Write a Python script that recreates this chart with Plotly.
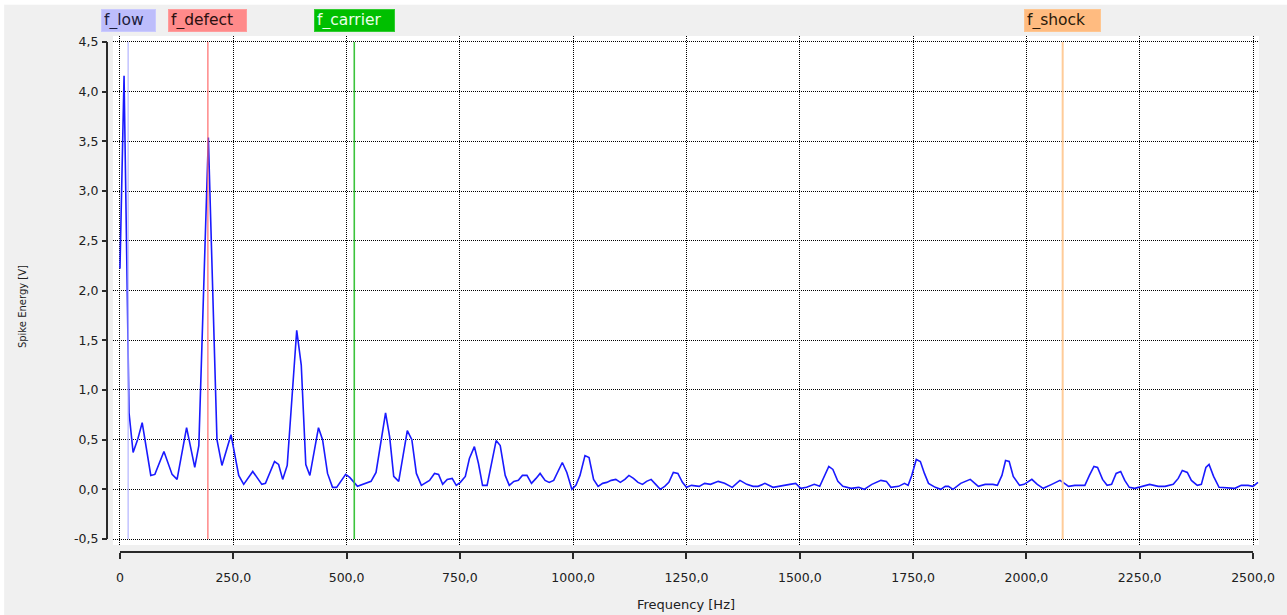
import plotly.graph_objects as go

# Spike energy spectrum
freq_hz = [
    0, 9, 20, 29, 39, 49, 68, 77, 97, 115,
    126, 147, 165, 174, 195, 214, 225, 245, 262, 273,
    293, 313, 321, 341, 350, 359, 369, 390, 400, 410,
    419, 438, 447, 458, 469, 478, 498, 507, 524, 554,
    565, 586, 595, 604, 615, 634, 644, 654, 665, 683,
    694, 703, 712, 722, 733, 742, 751, 762, 771, 782,
    791, 800, 810, 820, 830, 839, 850, 859, 869, 879,
    888, 898, 908, 918, 927, 938, 947, 957, 967, 976,
    986, 997, 1006, 1015, 1026, 1035, 1045, 1055, 1065, 1074,
    1084, 1094, 1104, 1114, 1123, 1133, 1143, 1153, 1162, 1172,
    1182, 1192, 1202, 1211, 1221, 1231, 1241, 1250, 1261, 1278,
    1290, 1303, 1320, 1334, 1351, 1368, 1383, 1397, 1408, 1423,
    1441, 1461, 1478, 1491, 1502, 1515, 1532, 1544, 1564, 1573,
    1584, 1595, 1613, 1630, 1642, 1659, 1679, 1691, 1701, 1718,
    1731, 1739, 1747, 1757, 1766, 1775, 1784, 1799, 1811, 1821,
    1828, 1838, 1855, 1876, 1894, 1909, 1926, 1936, 1946, 1954,
    1962, 1971, 1985, 1995, 2012, 2024, 2037, 2056, 2074, 2084,
    2093, 2107, 2129, 2139, 2149, 2157, 2168, 2178, 2188, 2198,
    2208, 2217, 2227, 2239, 2256, 2272, 2291, 2306, 2324, 2335,
    2344, 2355, 2364, 2377, 2386, 2396, 2403, 2413, 2425, 2445,
    2460, 2474, 2489, 2500, 2511,
]
spike_energy_v = [
    2.22, 4.16, 0.77, 0.37, 0.50, 0.67, 0.14, 0.15, 0.38, 0.15,
    0.10, 0.62, 0.22, 0.44, 3.54, 0.50, 0.24, 0.55, 0.14, 0.05,
    0.18, 0.05, 0.06, 0.28, 0.25, 0.10, 0.24, 1.60, 1.25, 0.25,
    0.14, 0.62, 0.50, 0.16, 0.02, 0.02, 0.15, 0.12, 0.03, 0.08,
    0.17, 0.77, 0.53, 0.13, 0.08, 0.59, 0.50, 0.16, 0.04, 0.09,
    0.16, 0.15, 0.05, 0.10, 0.11, 0.04, 0.07, 0.13, 0.31, 0.43,
    0.26, 0.04, 0.04, 0.26, 0.49, 0.44, 0.14, 0.04, 0.08, 0.09,
    0.14, 0.14, 0.06, 0.11, 0.16, 0.09, 0.07, 0.09, 0.19, 0.27,
    0.17, 0.00, 0.04, 0.14, 0.34, 0.32, 0.10, 0.03, 0.06, 0.07,
    0.09, 0.10, 0.07, 0.10, 0.14, 0.11, 0.07, 0.05, 0.08, 0.10,
    0.05, 0.00, 0.03, 0.07, 0.17, 0.16, 0.07, 0.02, 0.04, 0.03,
    0.06, 0.05, 0.08, 0.06, 0.02, 0.09, 0.05, 0.03, 0.03, 0.06,
    0.02, 0.04, 0.05, 0.06, 0.01, 0.02, 0.05, 0.03, 0.23, 0.20,
    0.08, 0.03, 0.01, 0.02, 0.00, 0.05, 0.09, 0.08, 0.02, 0.03,
    0.06, 0.04, 0.14, 0.30, 0.28, 0.16, 0.06, 0.02, 0.00, 0.03,
    0.03, 0.00, 0.06, 0.10, 0.03, 0.05, 0.05, 0.04, 0.14, 0.29,
    0.28, 0.13, 0.04, 0.05, 0.10, 0.05, 0.01, 0.05, 0.09, 0.06,
    0.03, 0.04, 0.04, 0.14, 0.23, 0.22, 0.10, 0.04, 0.05, 0.16,
    0.18, 0.09, 0.02, 0.01, 0.03, 0.05, 0.03, 0.03, 0.05, 0.11,
    0.19, 0.17, 0.09, 0.04, 0.05, 0.22, 0.25, 0.13, 0.02, 0.01,
    0.01, 0.04, 0.04, 0.03, 0.07,
]

# Characteristic frequency markers
marker_names = ["f_low", "f_defect", "f_carrier", "f_shock"]
marker_freqs = [18, 194, 517, 2080]

# Axis ticks
x_tick_vals = [0, 250, 500, 750, 1000, 1250, 1500, 1750, 2000, 2250, 2500]
x_tick_text = ["0", "250,0", "500,0", "750,0", "1000,0", "1250,0", "1500,0",
               "1750,0", "2000,0", "2250,0", "2500,0"]
y_tick_vals = [-0.5, 0.0, 0.5, 1.0, 1.5, 2.0, 2.5, 3.0, 3.5, 4.0, 4.5]
y_tick_text = ["-0,5", "0,0", "0,5", "1,0", "1,5", "2,0", "2,5", "3,0", "3,5", "4,0", "4,5"]

X_MIN, X_MAX = 0, 2500
Y_MIN, Y_MAX = -0.5, 4.5

# marker styling: box fill, box edge, text colour, line colour, line width, box width
marker_style = {
    "f_low": ("#bdbdfb", "#c9c9ff", "#1c1c3c", "#b4b4ff", 1.2, 49),
    "f_defect": ("#ff8a8a", "#ff9c9c", "#2a1010", "#ff6a6a", 1.2, 73),
    "f_carrier": ("#00bf00", "#30cc30", "#eaffea", "#3cc43c", 1.6, 75),
    "f_shock": ("#ffbb80", "#ffc690", "#2a1a0a", "#ffcc99", 2.0, 71),
}

FONT = "DejaVu Sans"

fig = go.Figure()
fig.add_trace(go.Scatter(
    x=freq_hz, y=spike_energy_v, mode="lines",
    line=dict(color="#1a1aff", width=1.6),
    hoverinfo="x+y", showlegend=False,
))

shapes = []
annotations = []

# vertical marker lines with their labels above the plot
for name, f in zip(marker_names, marker_freqs):
    fill, edge, txt, lcol, lw, bw = marker_style[name]
    shapes.append(dict(type="line", xref="x", yref="y", x0=f, x1=f,
                       y0=Y_MIN, y1=Y_MAX, line=dict(color=lcol, width=lw),
                       layer="above"))
    annotations.append(dict(
        text=name, x=f, xref="x", y=1.031, yref="paper",
        xanchor="center", yanchor="middle", showarrow=False,
        align="left", width=bw, height=17, borderpad=2, borderwidth=1,
        bgcolor=fill, bordercolor=edge,
        font=dict(family=FONT, size=15.5, color=txt),
    ))

# axis lines spanning only the labelled range
shapes.append(dict(type="line", xref="x", yref="paper", x0=X_MIN, x1=X_MAX,
                   y0=0, y1=0, line=dict(color="#2a2a2a", width=2)))
shapes.append(dict(type="line", xref="paper", yref="y", x0=0, x1=0,
                   y0=Y_MIN, y1=Y_MAX, line=dict(color="#2a2a2a", width=2)))

# thin white frame strips along the top and left edges
shapes.append(dict(type="rect", xref="paper", yref="paper", x0=-0.1, x1=1.05,
                   y0=1.0604, y1=1.08, fillcolor="#ffffff", line=dict(width=0),
                   layer="above"))
shapes.append(dict(type="rect", xref="paper", yref="paper", x0=-0.1, x1=-0.0893,
                   y0=-0.15, y1=1.08, fillcolor="#ffffff", line=dict(width=0),
                   layer="above"))

# axis titles
annotations.append(dict(text="Frequency [Hz]", x=0.5026, y=-0.1008,
                        xref="paper", yref="paper", showarrow=False,
                        xanchor="center", yanchor="middle",
                        font=dict(family=FONT, size=13, color="#202020")))
annotations.append(dict(text="Spike Energy [V]", x=-0.0737, y=0.4748,
                        xref="paper", yref="paper", showarrow=False,
                        xanchor="center", yanchor="middle", textangle=-90,
                        font=dict(family=FONT, size=10, color="#202020")))

grid_common = dict(showgrid=True, gridcolor="#000000", gridwidth=1,
                   griddash="1px,1px", zeroline=False, showline=False,
                   ticks="outside", tickcolor="#2a2a2a", tickwidth=1.5,
                   anchor="free", position=0, fixedrange=True)

fig.update_layout(
    width=1287, height=615,
    margin=dict(l=107, r=26, t=36, b=63, pad=0),
    paper_bgcolor="#f0f0f0",
    plot_bgcolor="#ffffff",
    showlegend=False,
    xaxis=dict(range=[-15.4, 2513.2], domain=[0.0052, 1],
               tickvals=x_tick_vals, ticktext=x_tick_text, ticklen=6,
               ticklabelstandoff=8,
               tickfont=dict(family=FONT, size=12.5, color="#202020"),
               **grid_common),
    yaxis=dict(range=[-0.560, 4.560], domain=[0.01357, 1],
               tickvals=y_tick_vals, ticktext=y_tick_text, ticklen=5,
               ticklabelstandoff=1,
               tickfont=dict(family=FONT, size=12.5, color="#202020"),
               **grid_common),
    shapes=shapes,
    annotations=annotations,
)

fig.write_html("out.html")
